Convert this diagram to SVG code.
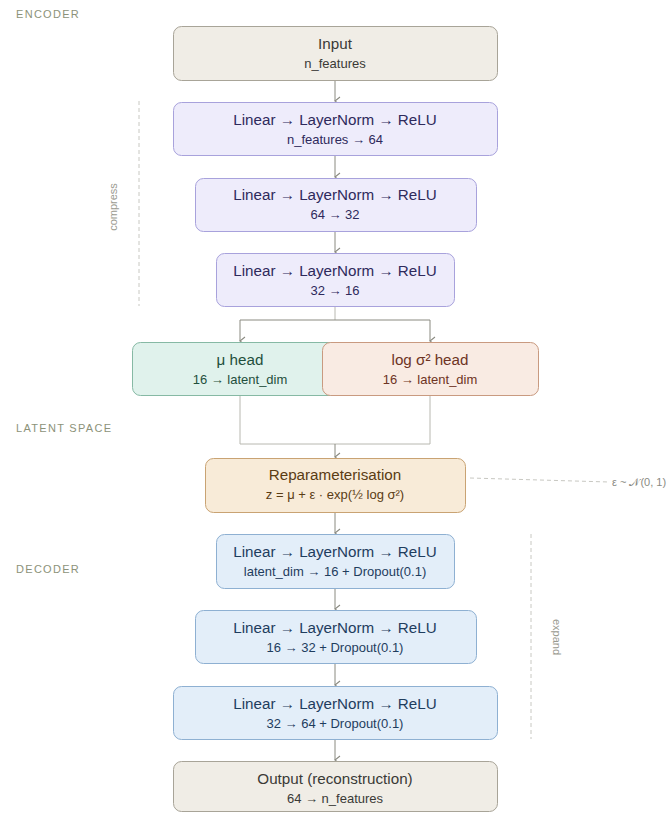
<svg xmlns="http://www.w3.org/2000/svg" width="669" height="813" viewBox="0 0 669 813">
<defs>
<marker id="arr" viewBox="0 0 10 10" refX="5" refY="9" markerWidth="10" markerHeight="10" markerUnits="userSpaceOnUse" orient="auto-start-reverse">
<polyline points="1,4 5,9 9,4" fill="none" stroke="#8a8a80" stroke-width="1.1"/>
</marker>
<style>
text{font-family:"Liberation Sans",Arial,sans-serif;text-anchor:middle}
.t{font-size:15.2px}
.s{font-size:13px}
.sec{font-size:11px;fill:#8c9279;letter-spacing:1.3px;text-anchor:start}
.side{font-size:11px;fill:#9a9a90}
.io rect{fill:#f0ede6;stroke:#a8a498}
.io text{fill:#3a3a36}
.enc rect{fill:#eeecfb;stroke:#a8a2dc}
.enc text{fill:#2e2a5c}
.mu rect{fill:#e0f2ec;stroke:#86b9a4}
.mu text{fill:#1f4f3c}
.lv rect{fill:#f9ebe3;stroke:#c99a80}
.lv text{fill:#6e3424}
.rp rect{fill:#f8ebd8;stroke:#c9a373}
.rp text{fill:#5a3c14}
.dec rect{fill:#e3eef9;stroke:#8eb0d2}
.dec text{fill:#1f3d5e}
rect{stroke-width:1}
.c{fill:none;stroke:#8a8a80;stroke-width:1}
.c2{fill:none;stroke:#b8b8b0;stroke-width:1}
.dash{fill:none;stroke:#c8c8c2;stroke-width:1;stroke-dasharray:4 3}
</style>
</defs>
<rect width="669" height="813" fill="#ffffff"/>

<text class="sec" x="16" y="18">ENCODER</text>
<text class="sec" x="16" y="432">LATENT SPACE</text>
<text class="sec" x="16" y="573">DECODER</text>

<g id="compress">
<line class="dash" x1="139" y1="101" x2="139" y2="306"/>
<text class="side" transform="translate(117,207) rotate(-90)">compress</text>
</g>
<g id="expand">
<line class="dash" x1="531" y1="534" x2="531" y2="739"/>
<text class="side" transform="translate(553,637) rotate(90)">expand</text>
</g>

<g id="connectors">
<line class="c" x1="335" y1="80" x2="335" y2="101" marker-end="url(#arr)"/>
<line class="c" x1="335" y1="155" x2="335" y2="177" marker-end="url(#arr)"/>
<line class="c" x1="335" y1="231" x2="335" y2="252" marker-end="url(#arr)"/>
<polyline class="c2" points="335,306 335,320"/>
<polyline class="c" points="240,341 240,320 430,320 430,341" marker-start="url(#arr)" marker-end="url(#arr)"/>
<polyline class="c2" points="240,395 240,444 430,444 430,395"/>
<line class="c" x1="335" y1="444" x2="335" y2="457" marker-end="url(#arr)"/>
<line class="c" x1="335" y1="512" x2="335" y2="533" marker-end="url(#arr)"/>
<line class="c" x1="335" y1="588" x2="335" y2="609" marker-end="url(#arr)"/>
<line class="c" x1="335" y1="663" x2="335" y2="685" marker-end="url(#arr)"/>
<line class="c" x1="335" y1="739" x2="335" y2="760" marker-end="url(#arr)"/>
<line class="dash" x1="470" y1="478" x2="609" y2="482"/>
</g>

<g id="input" class="io">
<rect x="173.5" y="26.5" width="324" height="54" rx="8"/>
<text class="t" x="335" y="49">Input</text>
<text class="s" x="335" y="68">n_features</text>
</g>
<g id="enc1" class="enc">
<rect x="173.5" y="102.5" width="324" height="53" rx="8"/>
<text class="t" x="335" y="125">Linear → LayerNorm → ReLU</text>
<text class="s" x="335" y="144">n_features → 64</text>
</g>
<g id="enc2" class="enc">
<rect x="195.5" y="178.5" width="281" height="53" rx="8"/>
<text class="t" x="335" y="200">Linear → LayerNorm → ReLU</text>
<text class="s" x="335" y="219">64 → 32</text>
</g>
<g id="enc3" class="enc">
<rect x="216.5" y="253.5" width="238" height="53" rx="8"/>
<text class="t" x="335" y="276">Linear → LayerNorm → ReLU</text>
<text class="s" x="335" y="295">32 → 16</text>
</g>
<g id="mu" class="mu">
<rect x="132.5" y="342.5" width="210" height="53" rx="8"/>
<text class="t" x="240" y="365">μ head</text>
<text class="s" x="240" y="384">16 → latent_dim</text>
</g>
<g id="logvar" class="lv">
<rect x="322.5" y="342.5" width="216" height="53" rx="8"/>
<text class="t" x="430" y="365">log σ² head</text>
<text class="s" x="430" y="384">16 → latent_dim</text>
</g>
<g id="reparam" class="rp">
<rect x="205.5" y="458.5" width="260" height="54" rx="8"/>
<text class="t" x="335" y="480">Reparameterisation</text>
<text class="s" x="335" y="499">z = μ + ε · exp(½ log σ²)</text>
</g>
<g id="noise">
<text class="side" x="612" y="486" style="text-anchor:start;fill:#8a8a82">ε ~ 𝒩(0, 1)</text>
</g>
<g id="dec1" class="dec">
<rect x="216.5" y="534.5" width="238" height="54" rx="8"/>
<text class="t" x="335" y="557">Linear → LayerNorm → ReLU</text>
<text class="s" x="335" y="576">latent_dim → 16 + Dropout(0.1)</text>
</g>
<g id="dec2" class="dec">
<rect x="195.5" y="610.5" width="281" height="53" rx="8"/>
<text class="t" x="335" y="633">Linear → LayerNorm → ReLU</text>
<text class="s" x="335" y="652">16 → 32 + Dropout(0.1)</text>
</g>
<g id="dec3" class="dec">
<rect x="173.5" y="686.5" width="324" height="53" rx="8"/>
<text class="t" x="335" y="709">Linear → LayerNorm → ReLU</text>
<text class="s" x="335" y="728">32 → 64 + Dropout(0.1)</text>
</g>
<g id="output" class="io">
<rect x="173.5" y="761.5" width="324" height="50" rx="8"/>
<text class="t" x="335" y="784">Output (reconstruction)</text>
<text class="s" x="335" y="803">64 → n_features</text>
</g>
</svg>
